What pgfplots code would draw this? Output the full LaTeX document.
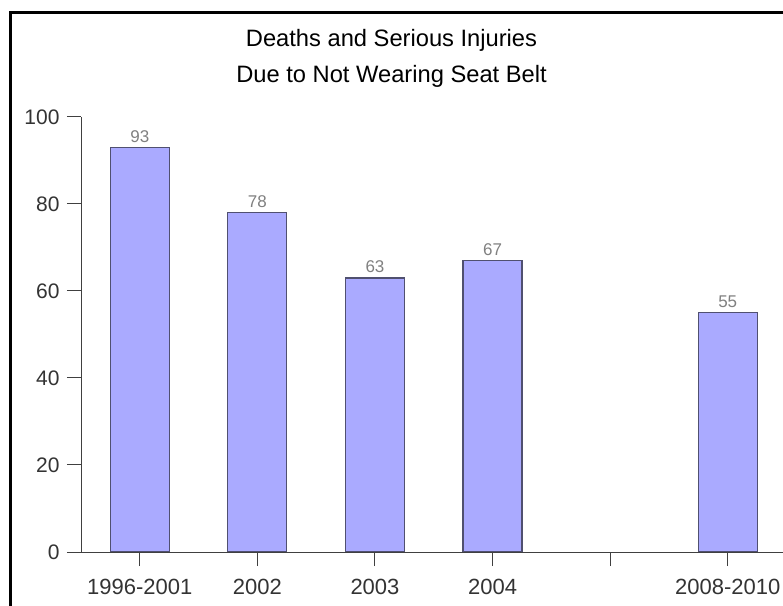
\documentclass[border=0pt]{standalone}
\usepackage{pgfplots}
\pgfplotsset{compat=1.18}
\usepackage{fontspec}
\setmainfont{Liberation Sans}
\definecolor{barfill}{HTML}{AAAAFF}
\definecolor{barline}{HTML}{505070}
\definecolor{ticktext}{HTML}{333333}
\definecolor{valtext}{HTML}{808080}
\definecolor{axisgray}{HTML}{404040}
\begin{document}
\begin{tikzpicture}
\path[use as bounding box] (0,0) rectangle (783bp,606bp);
\begin{scope}
\clip (0,0) rectangle (783bp,606bp);
\draw[line width=3bp,black] (10.5bp,-5bp) -- (10.5bp,593.5bp) -- (790bp,593.5bp);
\end{scope}
\node[anchor=base,font=\fontsize{23.7bp}{27bp}\selectfont] at (391.5bp,559bp) {Deaths and Serious Injuries};
\node[anchor=base,font=\fontsize{23.7bp}{27bp}\selectfont] at (391.5bp,523bp) {Due to Not Wearing Seat Belt};
\begin{axis}[
  at={(81bp,54bp)}, anchor=south west,
  scale only axis, width=702bp, height=435bp,
  xmin=-0.5, xmax=5.47, ymin=0, ymax=100,
  axis x line*=bottom, axis y line*=left,
  axis line style={axisgray, line width=1bp},
  ybar, bar width=59bp,
  xtick={0,1,2,3,4,5},
  xticklabels={1996-2001,2002,2003,2004,,2008-2010},
  ytick={0,20,40,60,80,100},
  tick align=outside,
  major tick length=14bp,
  tick style={axisgray, line width=1bp},
  /pgf/number format/assume math mode=true,
  xticklabel style={font=\fontsize{22bp}{25bp}\selectfont, text=ticktext, yshift=-10bp},
  yticklabel style={font=\fontsize{21bp}{24bp}\selectfont, text=ticktext, xshift=-4bp},
  nodes near coords,
  every node near coord/.append style={font=\fontsize{17bp}{20bp}\selectfont, text=valtext, anchor=base, yshift=5bp, inner sep=0pt},
]
\addplot[fill=barfill, draw=barline, line width=1.2bp] coordinates {(0,93) (1,78) (2,63) (3,67) (5,55)};
\end{axis}
\end{tikzpicture}
\end{document}
